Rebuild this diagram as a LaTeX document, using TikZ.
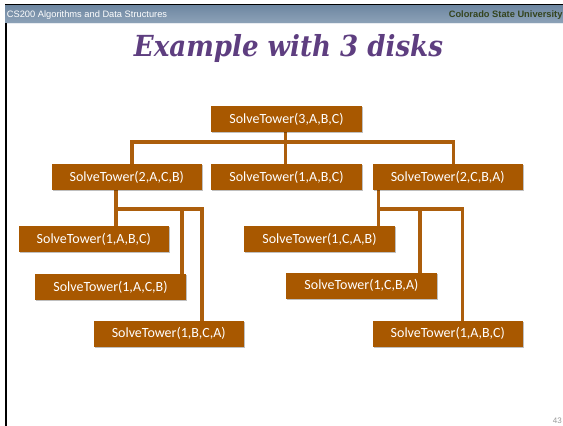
\documentclass[tikz,border=0pt]{standalone}
\usepackage{fontspec}
\setmainfont{Liberation Sans}
\newfontfamily\boxfont{Carlito}
\newfontfamily\titlefont{DejaVu Serif Condensed}
\usetikzlibrary{shadows}
\pgfdeclarelayer{background}
\pgfsetlayers{background,main}
\definecolor{boxbrown}{RGB}{168,88,0}
\definecolor{linebrown}{RGB}{172,94,12}
\definecolor{titlepurple}{RGB}{94,62,128}
\definecolor{bartop}{RGB}{108,133,160}
\definecolor{barbot}{RGB}{140,161,183}
\definecolor{csugreen}{RGB}{52,68,30}
\tikzset{
  callbox/.style={draw=none, fill=boxbrown, text=white, anchor=north west,
    minimum width=150.5pt, minimum height=26pt, inner sep=0pt,
    font=\boxfont\fontsize{14}{16}\selectfont,
    drop shadow={shadow xshift=1.2pt, shadow yshift=-1.2pt, fill=black, opacity=0.25}},
  conn/.style={draw=linebrown, line width=3.6pt, line cap=rect, line join=miter},
}
\begin{document}
\begin{tikzpicture}[x=1pt,y=-1pt]
\useasboundingbox (0,0) rectangle (563,426);
% header
\shade[top color=bartop, bottom color=barbot] (5,4) rectangle (563,22.5);
\draw[black, line width=1.5pt] (5,4.5) -- (563,4.5);
\draw[white!80!barbot, line width=0.8pt] (5,23) -- (563,23);
\draw[black, line width=2.2pt] (6.2,23) -- (6.2,426);
\node[anchor=base west, text=white, font=\fontsize{9.3}{10}\selectfont, inner sep=0pt] (hl) at (6.7,17) {CS200 Algorithms and Data Structures};
\node[anchor=base east, text=csugreen, font=\bfseries\fontsize{9.3}{10}\selectfont, inner sep=0pt] (hr) at (562.7,17) {Colorado State University};
% title
\node[anchor=base, text=titlepurple, font=\titlefont\bfseries\itshape\fontsize{29}{34}\selectfont, inner sep=0pt] (title) at (288.5,56) {Example with 3 disks};
% page number
\node[anchor=base east, text=black!40, font=\fontsize{8}{9}\selectfont, inner sep=0pt] (pg) at (562,423) {43};
% boxes
\node[callbox] (root) at (211,106) {SolveTower(3,A,B,C)};
\node[callbox] (L) at (51.3,164) {SolveTower(2,A,C,B)};
\node[callbox] (M) at (211,164) {SolveTower(1,A,B,C)};
\node[callbox] (R) at (372.3,164) {SolveTower(2,C,B,A)};
\node[callbox] (A) at (18.3,226) {SolveTower(1,A,B,C)};
\node[callbox] (B) at (35,274) {SolveTower(1,A,C,B)};
\node[callbox] (C) at (93.3,320.5) {SolveTower(1,B,C,A)};
\node[callbox] (D) at (244,226) {SolveTower(1,C,A,B)};
\node[callbox] (E) at (286,272.3) {SolveTower(1,C,B,A)};
\node[callbox] (F) at (372.3,320.3) {SolveTower(1,A,B,C)};
% junction coordinates
\coordinate (jt) at (285.5,141.7);
\coordinate (jtl) at (131.7,141.7);
\coordinate (jtr) at (453.3,141.7);
\coordinate (jl1) at (116,209);
\coordinate (jl2) at (181.7,209);
\coordinate (jl3) at (201.7,209);
\coordinate (jr1) at (378.3,209);
\coordinate (jr2) at (420,209);
\coordinate (jr3) at (462.5,209);
% connectors (behind boxes)
\begin{pgfonlayer}{background}
\draw[conn] (root.south -| jt) -- (M.north -| jt);
\draw[conn] (L.north -| jtl) -- (jtl) -- (jtr) -- (R.north -| jtr);
\draw[conn] (L.south -| jl1) -- (A.north -| jl1);
\draw[conn] (jl1) -- (jl3) -- (C.north -| jl3);
\draw[conn] (jl2) -- (B.north -| jl2);
\draw[conn] (R.south -| jr1) -- (D.north -| jr1);
\draw[conn] (jr1) -- (jr3) -- (F.north -| jr3);
\draw[conn] (jr2) -- (E.north -| jr2);
\end{pgfonlayer}
\end{tikzpicture}
\end{document}
